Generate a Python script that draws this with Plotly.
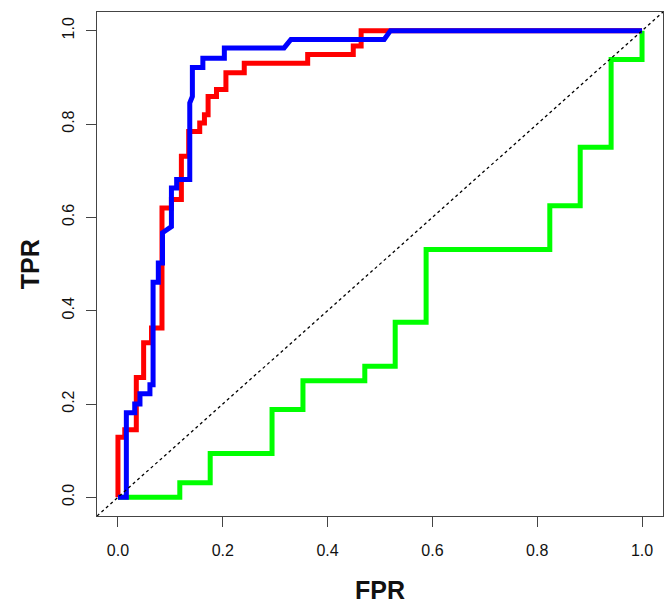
import plotly.graph_objects as go

# ROC curve vertices
red_fpr = [0, 0, 0.013, 0.013, 0.035, 0.035, 0.049, 0.049, 0.064, 0.064, 0.084, 0.084,
           0.102, 0.102, 0.121, 0.121, 0.135, 0.135, 0.156, 0.156, 0.165, 0.165, 0.172,
           0.172, 0.188, 0.188, 0.206, 0.206, 0.241, 0.241, 0.362, 0.362, 0.449, 0.449,
           0.464, 0.464, 1.0]
red_tpr = [0, 0.129, 0.129, 0.145, 0.145, 0.257, 0.257, 0.331, 0.331, 0.363, 0.363, 0.62,
           0.62, 0.638, 0.638, 0.731, 0.731, 0.784, 0.784, 0.802, 0.802, 0.82, 0.82,
           0.859, 0.859, 0.874, 0.874, 0.91, 0.91, 0.93, 0.93, 0.949, 0.949, 0.967,
           0.967, 1.0, 1.0]

blue_fpr = [0, 0.016, 0.016, 0.032, 0.032, 0.042, 0.042, 0.061, 0.061, 0.067, 0.067, 0.077,
            0.077, 0.085, 0.085, 0.099, 0.102, 0.102, 0.112, 0.112, 0.137, 0.137, 0.142,
            0.142, 0.162, 0.162, 0.203, 0.203, 0.317, 0.33, 0.508, 0.52, 1.0]
blue_tpr = [0, 0, 0.181, 0.181, 0.2, 0.2, 0.222, 0.222, 0.241, 0.241, 0.461, 0.461,
            0.502, 0.502, 0.567, 0.58, 0.58, 0.663, 0.663, 0.681, 0.681, 0.845, 0.859,
            0.921, 0.921, 0.941, 0.941, 0.963, 0.963, 0.981, 0.981, 1.0, 1.0]

green_fpr = [0, 0.118, 0.118, 0.176, 0.176, 0.294, 0.294, 0.353, 0.353, 0.471, 0.471,
             0.529, 0.529, 0.588, 0.588, 0.824, 0.824, 0.882, 0.882, 0.941, 0.941, 1.0, 1.0]
green_tpr = [0, 0, 0.031, 0.031, 0.094, 0.094, 0.188, 0.188, 0.25, 0.25, 0.281,
             0.281, 0.375, 0.375, 0.531, 0.531, 0.625, 0.625, 0.75, 0.75, 0.938, 0.938, 1.0]

diag = [-0.04, 1.04]
tick_vals = [0, 0.2, 0.4, 0.6, 0.8, 1.0]
tick_text = ["0.0", "0.2", "0.4", "0.6", "0.8", "1.0"]

FONT = "Liberation Sans, Arial, Helvetica, sans-serif"

fig = go.Figure()
fig.add_trace(go.Scatter(x=green_fpr, y=green_tpr, mode="lines",
                         line=dict(color="#00FF00", width=5), showlegend=False))
fig.add_trace(go.Scatter(x=red_fpr, y=red_tpr, mode="lines",
                         line=dict(color="#FF0000", width=5), showlegend=False))
fig.add_trace(go.Scatter(x=blue_fpr, y=blue_tpr, mode="lines",
                         line=dict(color="#0000FF", width=5), showlegend=False))
fig.add_trace(go.Scatter(x=diag, y=diag, mode="lines",
                         line=dict(color="black", width=1.3, dash="dot"), showlegend=False))

axis_common = dict(
    range=[-0.04, 1.04], tickvals=tick_vals, ticktext=tick_text,
    showgrid=False, zeroline=False, showline=True, mirror=True,
    linecolor="#444", linewidth=1, ticks="outside", ticklen=10,
    tickcolor="#444", tickwidth=1,
    tickfont=dict(family=FONT, size=16, color="#111"),
)

fig.update_layout(
    width=665, height=608,
    margin=dict(l=97, r=2, t=12, b=92),
    paper_bgcolor="white", plot_bgcolor="white",
    xaxis=dict(**axis_common, ticklabelstandoff=10),
    yaxis=dict(**axis_common, tickangle=-90, ticklabelstandoff=6),
    annotations=[
        dict(text="<b>FPR</b>", x=0.5, xref="paper", y=-0.147, yref="paper",
             yanchor="middle", xanchor="center", showarrow=False,
             font=dict(family=FONT, size=25, color="#111")),
        dict(text="<b>TPR</b>", x=-0.118, xref="paper", y=0.5, yref="paper",
             xanchor="center", yanchor="middle", textangle=-90, showarrow=False,
             font=dict(family=FONT, size=25, color="#111")),
    ],
)

fig.write_html(
    "out.html",
    config={"displayModeBar": False},
    post_script="document.body.style.margin='0';document.body.style.overflow='hidden';",
)
